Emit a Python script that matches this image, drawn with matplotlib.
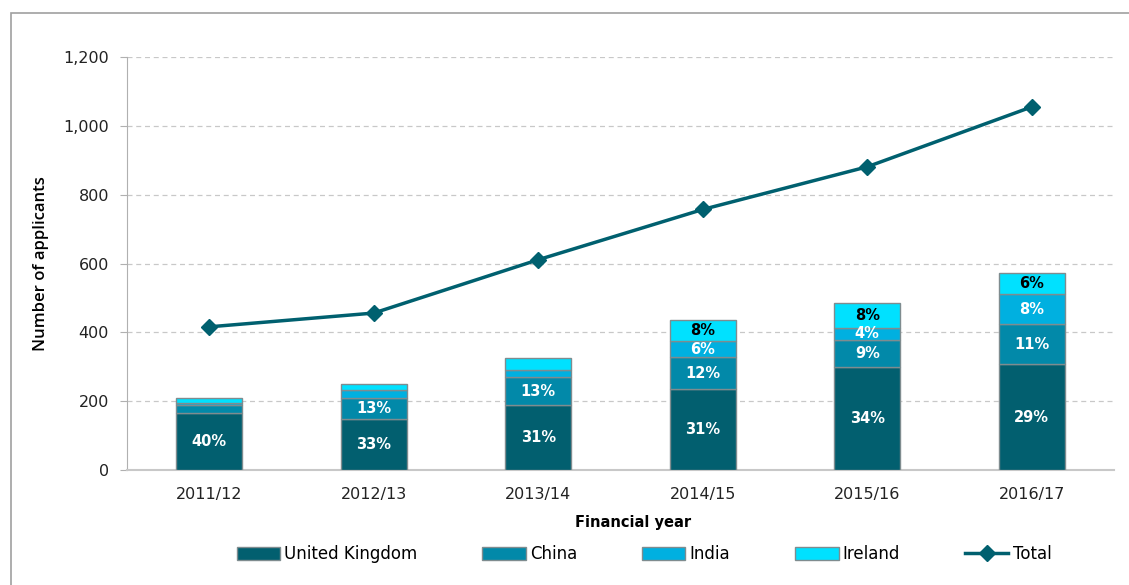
import matplotlib.pyplot as plt
import matplotlib.patches as mpatches
from matplotlib.ticker import FuncFormatter
import numpy as np

years = ['2011/12', '2012/13', '2013/14', '2014/15', '2015/16', '2016/17']
uk = [166, 149, 189, 235, 299, 307]
china = [22, 59, 80, 92, 79, 118]
india = [7, 24, 23, 47, 36, 85]
ireland = [13, 17, 34, 62, 70, 62]
total = [416, 456, 611, 757, 881, 1055]

# percentage labels (None = not shown)
uk_pct = ['40%', '33%', '31%', '31%', '34%', '29%']
china_pct = [None, '13%', '13%', '12%', '9%', '11%']
india_pct = [None, None, None, '6%', '4%', '8%']
ireland_pct = [None, None, None, '8%', '8%', '6%']

colors = {'United Kingdom': '#025f6f', 'China': '#0289a9',
          'India': '#00b0e0', 'Ireland': '#00e1ff'}
line_color = '#00606f'

fig = plt.figure(figsize=(11.29, 5.85), dpi=100)
# outer chart border
fig.patches.append(mpatches.Rectangle((11 / 1129, -0.05), 1.2, 1.05 - 13 / 585,
                                      transform=fig.transFigure, fill=False,
                                      edgecolor='#a0a0a0', linewidth=1.2))
ax = fig.add_axes([127 / 1129, 1 - 470 / 585, (1114 - 127) / 1129, (470 - 57) / 585])

x = np.arange(len(years))
w = 0.40
series = [('United Kingdom', uk, uk_pct, 'white'),
          ('China', china, china_pct, 'white'),
          ('India', india, india_pct, 'white'),
          ('Ireland', ireland, ireland_pct, 'black')]
bottom = np.zeros(len(years))
handles = []
for name, vals, pcts, tc in series:
    vals = np.array(vals, dtype=float)
    bars = ax.bar(x, vals, w, bottom=bottom, color=colors[name],
                  edgecolor='#7f8c8f', linewidth=1.0, zorder=3, label=name)
    handles.append(bars)
    for xi, b, v, p in zip(x, bottom, vals, pcts):
        if p:
            ax.text(xi, b + v / 2, p, ha='center', va='center', color=tc,
                    fontsize=10.5, fontweight='bold', family='DejaVu Sans', zorder=5)
    bottom += vals

line, = ax.plot(x, total, color=line_color, linewidth=2.5, marker='D',
                markersize=8, zorder=4, label='Total')

ax.set_xlim(-0.5, len(years) - 0.5)
ax.set_ylim(0, 1200)
ax.set_yticks(range(0, 1201, 200))
ax.yaxis.set_major_formatter(FuncFormatter(lambda v, p: f'{int(v):,}'))
ax.set_xticks(x)
ax.set_xticklabels(years)
ax.grid(axis='y', linestyle=(0, (4, 3)), color='#c8c8c8', linewidth=0.9, zorder=0)
ax.set_axisbelow(True)

for s in ['top', 'right']:
    ax.spines[s].set_visible(False)
ax.spines['left'].set_color('#b0b0b0')
ax.spines['bottom'].set_color('#c8c8c8')
ax.spines['bottom'].set_linewidth(1.5)
ax.tick_params(axis='y', length=5, color='#b0b0b0', labelsize=11.5,
               labelcolor='#222222', pad=8)
ax.tick_params(axis='x', length=0, labelsize=11.5, labelcolor='#222222', pad=12)

ax.set_ylabel('Number of applicants', fontsize=12, family='Open Sans',
              fontweight='semibold', labelpad=10)
fig.text(633 / 1129, 1 - 523 / 585, 'Financial year', ha='center', va='center',
         fontsize=10.5, fontweight='bold')

fig.legend(handles + [line], ['United Kingdom', 'China', 'India', 'Ireland', 'Total'],
           loc='center', bbox_to_anchor=(644 / 1129, 1 - 554 / 585), ncol=5,
           frameon=False, handlelength=2.6, handleheight=0.8, handletextpad=0.25,
           columnspacing=3.9, borderpad=0, prop={'size': 12})

plt.savefig('out.png', dpi=100)
